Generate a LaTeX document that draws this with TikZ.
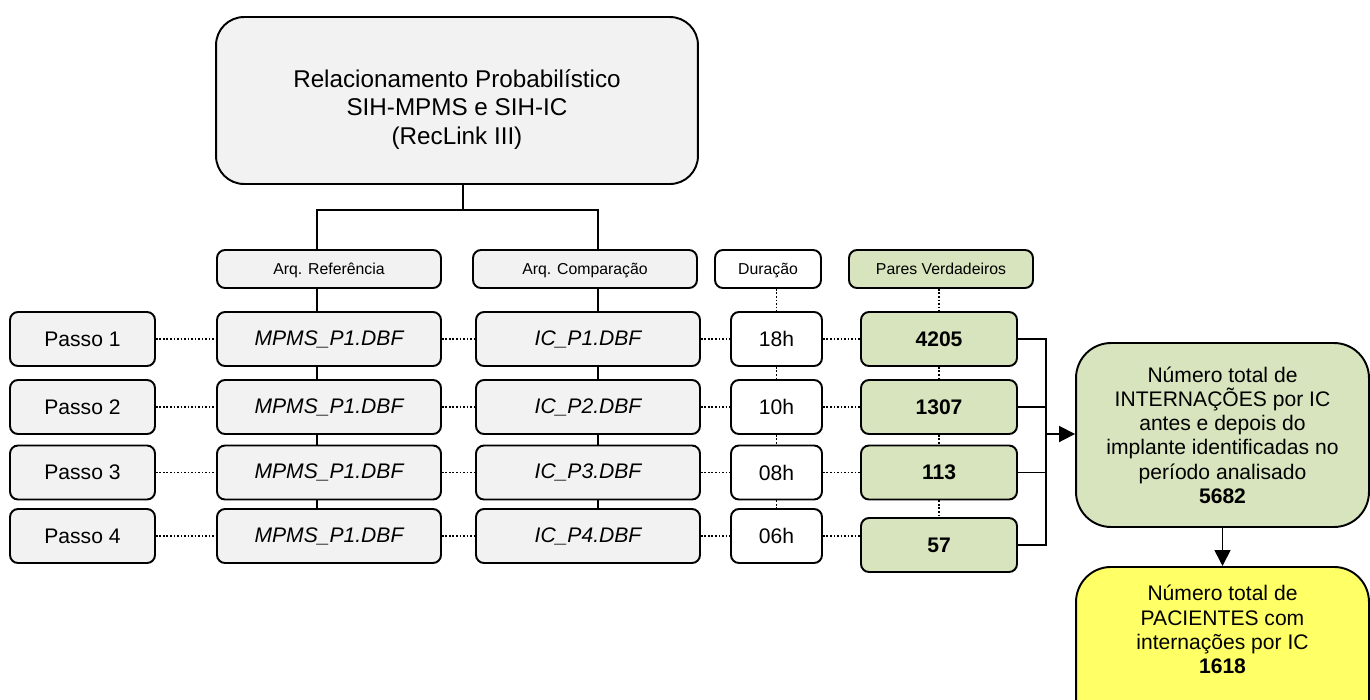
\documentclass[tikz,border=0pt]{standalone}
\usepackage{fontspec}
\setmainfont{Liberation Sans}
\usepackage{xcolor}
\usetikzlibrary{arrows.meta,positioning}

\definecolor{boxgray}{HTML}{F2F2F2}
\definecolor{boxgreen}{HTML}{D7E4BD}
\definecolor{boxyellow}{HTML}{FFFF66}

\begin{document}
\begin{tikzpicture}[x=0.02cm, y=-0.02cm,
  >={Triangle[length=0.32cm,width=0.32cm]},
  box/.style={draw, line width=1.1pt, rounded corners=0.16cm, align=center,
    inner sep=0pt, minimum height=1.08cm, font=\fontsize{12}{13.8}\selectfont},
  hdr/.style={box, minimum height=0.76cm, text depth=0pt, font=\fontsize{9}{10.8}\selectfont},
  link/.style={line width=1pt},
  dots/.style={line width=1pt, dash pattern=on 1pt off 1pt}]
  \useasboundingbox (0,0) rectangle (1370,700);

  % top
  \node[box, fill=boxgray, rounded corners=0.56cm, minimum width=9.64cm,
    minimum height=3.34cm, font=\fontsize{13.8}{16}\selectfont] (top) at (457,100.5)
    {\rule{0pt}{0.72cm}Relacionamento Probabilístico\\SIH-MPMS e SIH-IC\\(RecLink III)};

  % headers
  \node[hdr, fill=boxgray, minimum width=4.48cm] (hr) at (329,269) {Arq. Referência};
  \node[hdr, fill=boxgray, minimum width=4.48cm] (hc) at (585,269) {Arq. Comparação};
  \node[hdr, fill=white, minimum width=2.12cm] (hd) at (768,269) {Duração};
  \node[hdr, fill=boxgreen, minimum width=3.68cm] (hp) at (941,269) {Pares Verdadeiros};

  % steps
  \node[box, fill=boxgray, minimum width=2.9cm] (p1) at (82.5,339) {Passo 1};
  \node[box, fill=boxgray, minimum width=2.9cm] (p2) at (82.5,407) {Passo 2};
  \node[box, fill=boxgray, minimum width=2.9cm] (p3) at (82.5,472.5) {Passo 3};
  \node[box, fill=boxgray, minimum width=2.9cm] (p4) at (82.5,536) {Passo 4};

  \node[box, fill=boxgray, minimum width=4.48cm] (m1) at (329,339) {\itshape MPMS\_P1.DBF};
  \node[box, fill=boxgray, minimum width=4.48cm] (m2) at (329,407) {\itshape MPMS\_P1.DBF};
  \node[box, fill=boxgray, minimum width=4.48cm] (m3) at (329,472.5) {\itshape MPMS\_P1.DBF};
  \node[box, fill=boxgray, minimum width=4.48cm] (m4) at (329,536) {\itshape MPMS\_P1.DBF};

  \node[box, fill=boxgray, minimum width=4.48cm] (c1) at (588,339) {\itshape IC\_P1.DBF};
  \node[box, fill=boxgray, minimum width=4.48cm] (c2) at (588,407) {\itshape IC\_P2.DBF};
  \node[box, fill=boxgray, minimum width=4.48cm] (c3) at (588,472.5) {\itshape IC\_P3.DBF};
  \node[box, fill=boxgray, minimum width=4.48cm] (c4) at (588,536) {\itshape IC\_P4.DBF};

  \node[box, fill=white, minimum width=1.82cm] (d1) at (776.5,339) {18h};
  \node[box, fill=white, minimum width=1.82cm] (d2) at (776.5,407) {10h};
  \node[box, fill=white, minimum width=1.82cm] (d3) at (776.5,472.5) {08h};
  \node[box, fill=white, minimum width=1.82cm] (d4) at (776.5,536) {06h};

  \node[box, fill=boxgreen, minimum width=3.12cm] (v1) at (939,339) {\bfseries 4205};
  \node[box, fill=boxgreen, minimum width=3.12cm] (v2) at (939,407) {\bfseries 1307};
  \node[box, fill=boxgreen, minimum width=3.12cm] (v3) at (939,472.5) {\bfseries 113};
  \node[box, fill=boxgreen, minimum width=3.12cm] (v4) at (939,545) {\bfseries 57};

  % totals
  \node[box, fill=boxgreen, rounded corners=0.7cm, minimum width=5.86cm,
    minimum height=3.68cm] (tot) at (1222.5,435)
    {Número total de\\INTERNAÇÕES por IC\\antes e depois do\\implante identificadas no\\período analisado\\\textbf{5682}};
  \node[box, fill=boxyellow, rounded corners=0.7cm, minimum width=5.86cm,
    anchor=north, inner ysep=0.37cm, text depth=2cm] (pac) at (1222.5,566)
    {Número total de\\PACIENTES com\\internações por IC\\\textbf{1618}};

  % solid links
  \coordinate (split) at (463,210);
  \coordinate (rx) at (317,210);
  \coordinate (cx) at (598,210);
  \draw[link] (top.south -| split) -- (split);
  \draw[link] (rx |- hr.north) -- (rx) -- (cx) -- (cx |- hc.north);
  \draw[link] (rx |- hr.south) -- (rx |- m1.north);
  \draw[link] (rx |- m1.south) -- (rx |- m2.north);
  \draw[link] (rx |- m2.south) -- (rx |- m3.north);
  \draw[link] (rx |- m3.south) -- (rx |- m4.north);
  \draw[link] (cx |- hc.south) -- (cx |- c1.north);
  \draw[link] (cx |- c1.south) -- (cx |- c2.north);
  \draw[link] (cx |- c2.south) -- (cx |- c3.north);
  \draw[link] (cx |- c3.south) -- (cx |- c4.north);

  % dotted links
  \draw[dots] (p1) -- (m1);  \draw[dots] (m1) -- (c1);  \draw[dots] (c1) -- (d1);  \draw[dots] (d1) -- (v1);
  \draw[dots] (p2) -- (m2);  \draw[dots] (m2) -- (c2);  \draw[dots] (c2) -- (d2);  \draw[dots] (d2) -- (v2);
  \draw[dots] (p3) -- (m3);  \draw[dots] (m3) -- (c3);  \draw[dots] (c3) -- (d3);  \draw[dots] (d3) -- (v3);
  \draw[dots] (p4) -- (m4);  \draw[dots] (m4) -- (c4);  \draw[dots] (c4) -- (d4);
  \draw[dots] (d4.east) -- (d4.east -| v4.west);
  \draw[dots] (d1.north |- hd.south) -- (d1.north);
  \draw[dots] (d1) -- (d2);  \draw[dots] (d2) -- (d3);  \draw[dots] (d3) -- (d4);
  \draw[dots] (v1.north |- hp.south) -- (v1.north);
  \draw[dots] (v1) -- (v2);  \draw[dots] (v2) -- (v3);  \draw[dots] (v3) -- (v4);

  % bracket and arrows
  \coordinate (brk) at (1046,434);
  \draw[link] (v1.east) -- (v1.east -| brk) -- (v4.east -| brk) -- (v4.east);
  \draw[link] (v2.east) -- (v2.east -| brk);
  \draw[link] (v3.east) -- (v3.east -| brk);
  \draw[link,->] (brk) -- (brk -| tot.west);
  \draw[link,->] (tot.south) -- (pac.north);
\end{tikzpicture}
\end{document}
